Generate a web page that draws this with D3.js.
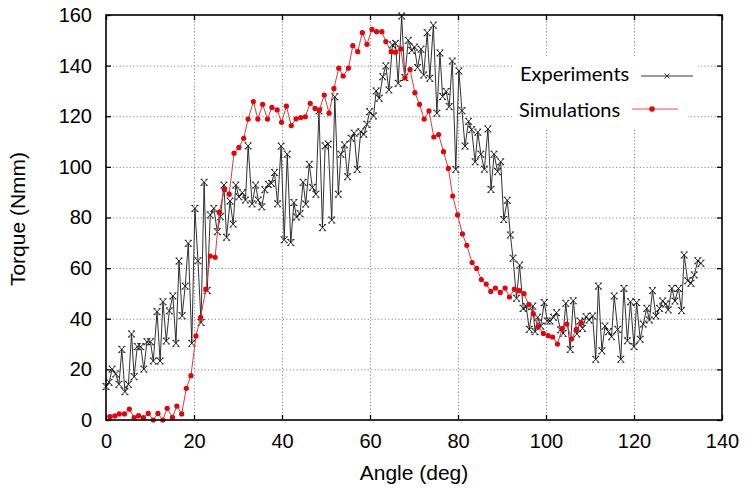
<!DOCTYPE html>
<html>
<head>
<meta charset="utf-8">
<script src="https://cdn.jsdelivr.net/npm/d3@7"></script>
<style>
  body { margin: 0; background: #fff; }
  svg { display: block; }
</style>
</head>
<body>
<svg id="canvas"></svg>
<script>
// experiments (angle in deg, torque in Nmm)
let expAngle = [0,0.7,1.4,2.2,2.95,3.6,4.3,5.1,5.8,6.4,
  7.1,7.9,8.6,9.3,10.1,10.75,11.6,12.3,12.95,13.7,
  14.4,15.2,15.9,16.6,17.3,18,18.7,19.5,20.2,20.9,
  21.6,22.3,23,23.7,24.5,25.3,26,26.8,27.4,28.2,
  28.9,29.5,30.2,31,31.7,32.3,33.2,34,34.6,35.4,
  36.1,36.9,37.6,38.3,39,39.8,40.5,41.2,42,42.7,
  43.3,44.1,44.8,45.4,46.2,46.9,47.7,48.4,49.2,49.8,
  50.5,51.3,52,52.8,53.4,54.2,54.9,55.7,56.4,57.1,
  57.9,58.6,59.3,59.9,60.8,61.4,62.1,62.9,63.6,64.3,
  65.1,65.8,66.4,67.2,67.9,68.7,69.5,70.1,70.8,71.6,
  72.2,73,73.6,74.4,75.2,75.9,76.5,77.3,78,78.7,
  79.5,80.2,80.9,81.6,82.4,83.1,83.9,84.5,85.2,86,
  86.8,87.5,88.2,89,89.7,90.4,91.2,91.9,92.5,93.3,
  94,94.8,95.5,96.2,97,97.5,98.1,98.8,99.6,100.3,
  100.9,101.7,102.4,103.3,103.9,104.5,105.5,106.2,107,107.7,
  108.3,109.1,109.8,110.6,111.3,111.9,112.7,113.4,114.2,114.9,
  115.5,116.3,117,117.7,118.5,119.2,120,120.6,121.4,122.1,
  122.9,123.5,124.2,125,125.8,126.5,127.2,127.8,128.6,129.3,
  130.1,130.8,131.4,132.2,132.95,133.7,134.5,135.2];
let expTorque = [13.2,14.9,20.1,18.2,14.1,27.9,11.2,14.1,34,17.1,
  29,29,20.1,30.9,30.9,23.3,42.8,23.3,46.7,31.2,
  43.1,49,30.3,62.8,41.2,52.9,69.8,30.3,83.6,62.9,
  38.5,93.9,51.2,81,83.6,74.4,80.3,92.8,72.2,86.5,
  77.4,92.8,88.2,89.8,86.9,108.3,85.4,92.8,86.9,84.2,
  91,93.1,93.5,97.8,85.4,108.2,71.2,105,70.1,85.9,
  80.2,81.5,93.9,85.3,101,91.9,89.2,122.1,76,108.3,
  109,79,127.7,89.2,105,108.7,96.1,111.3,113.3,99,
  113.9,112.9,116.8,121.8,120.1,130,127.1,135.6,139.9,130.4,
  148.2,148.8,133,159.6,135.3,150,146,147.3,139.2,146.5,
  136.3,153,135,156,121.2,145,127.8,129.8,123.8,141.8,
  99,137.9,122.2,108.2,118,114.7,102,113.7,105,99.1,
  115,91.1,105,98.1,102,79.2,86.8,73.1,63.9,48.1,
  61.2,44.1,44.8,35.8,45,34.9,40.6,37.1,46.4,39.1,
  39.1,40.6,42.4,35.6,34.2,46.1,27.9,47.1,34,39.1,
  36.2,40.8,39.5,41.1,24,52.9,27.3,37.1,34.9,32.9,
  49,35.8,24,52,31.3,46.7,29,46.4,31.9,37.9,
  44.1,39.5,51.1,41.1,44.1,47,45.8,43.5,52,47,
  52,43.2,65.2,55,54,57.3,62.9,61.9];

// simulations
let simAngle = [0.9,2,3,4.2,5.3,6.4,7.4,8.5,9.6,10.75,
  11.8,12.9,13.9,15.1,16.1,17.2,18.25,19.3,20.45,21.5,
  22.7,23.7,24.8,25.75,26.9,28,29.1,30.2,31.3,32.3,
  33.5,34.5,35.6,36.7,37.7,38.9,39.9,41,42.1,43.2,
  44.25,45.3,46.4,47.5,48.5,49.6,50.7,51.8,52.9,53.9,
  55.1,56.1,57.2,58.25,59.3,60.45,61.5,62.7,63.6,64.8,
  65.8,67,67.95,69.1,70.2,71.25,72.3,73.4,74.5,75.6,
  76.7,77.8,78.8,79.9,81,82,83.2,84.25,85.3,86.4,
  87.45,88.5,89.6,90.7,91.7,92.8,93.9,95,96.1,97.1,
  98.25,99.4,100.5,101.5,102.6,103.7,104.7,105.8,106.9,108];
let simTorque = [1.3,1.6,2.4,2.4,4.3,0.9,1.7,0.9,2.6,0,
  2.6,0,4.6,1,5.5,2.4,12.5,17.5,33.2,40.6,
  51.6,64.8,64.3,82.1,91.1,89.2,105.4,107.7,111.3,118.9,
  125.8,118.9,124.7,118.9,123.5,122.5,117.6,124,116.3,119,
  119.5,119.8,125.1,123.1,122.5,128.4,121.2,131,139,135.9,
  139,147.9,145.5,153,148.4,154.3,153.4,153.4,149.5,145.5,
  145.3,146.6,135.2,138.5,129.3,124.7,118.9,122.1,111.8,112.8,
  106,99.4,88.5,81,73.5,69,62.2,59.9,55.5,53.7,
  50.8,52.1,50.4,52.1,48.6,51.7,51.1,49.9,45.6,42,
  36.8,34.2,33.3,32.8,30,36.2,37.9,32,35.8,38.5];

let xTicks = [0, 20, 40, 60, 80, 100, 120, 140];
let yTicks = [0, 20, 40, 60, 80, 100, 120, 140, 160];

let width = 746;
let height = 491;
let plotLeft = 106, plotRight = 722, plotTop = 15, plotBottom = 420;

let canvas = d3.select("#canvas")
  .attr("width", width)
  .attr("height", height);

let xScale = d3.scaleLinear().domain([0, 140]).range([plotLeft, plotRight]);
let yScale = d3.scaleLinear().domain([0, 160]).range([plotBottom, plotTop]);

let expData = expAngle.map((a, i) => [a, expTorque[i]]);
let simData = simAngle.map((a, i) => [a, simTorque[i]]);

let crossPath = "M-3,-3L3,3M-3,3L3,-3M-3.5,-3H-1.5M1.5,-3H3.5M-3.5,3H-1.5M1.5,3H3.5";

let drawGrid = () => {
  let gx = canvas.append("g")
    .attr("transform", "translate(0," + plotBottom + ")")
    .call(d3.axisBottom(xScale).tickValues(xTicks.slice(1, -1)).tickSize(-(plotBottom - plotTop)).tickFormat(""));
  let gy = canvas.append("g")
    .attr("transform", "translate(" + plotLeft + ",0)")
    .call(d3.axisLeft(yScale).tickValues(yTicks.slice(1, -1)).tickSize(-(plotRight - plotLeft)).tickFormat(""));
  [gx, gy].forEach(g => {
    g.select(".domain").remove();
    g.selectAll("line")
      .attr("stroke", "#8a8a8a")
      .attr("stroke-width", 1)
      .attr("stroke-dasharray", "1.2,2.2");
  });
};

let drawLegendBack = () => {
  canvas.append("rect").attr("x", 512).attr("y", 56).attr("width", 186).attr("height", 37).attr("fill", "#fff");
  canvas.append("rect").attr("x", 512).attr("y", 92).attr("width", 176).attr("height", 37).attr("fill", "#fff");
};

let drawSeries = () => {
  let line = d3.line().x(d => xScale(d[0])).y(d => yScale(d[1]));

  canvas.append("path")
    .datum(expData)
    .attr("d", line)
    .attr("fill", "none")
    .attr("stroke", "#1a1a1a")
    .attr("stroke-width", 0.9);

  canvas.selectAll(".exp")
    .data(expData)
    .enter()
    .append("path")
    .attr("class", "exp")
    .attr("d", crossPath)
    .attr("transform", d => "translate(" + xScale(d[0]) + "," + yScale(d[1]) + ")")
    .attr("fill", "none")
    .attr("stroke", "#111")
    .attr("stroke-width", 0.9);

  canvas.append("path")
    .datum(simData)
    .attr("d", line)
    .attr("fill", "none")
    .attr("stroke", "#e03a3a")
    .attr("stroke-width", 1);

  canvas.selectAll(".sim")
    .data(simData)
    .enter()
    .append("circle")
    .attr("class", "sim")
    .attr("cx", d => xScale(d[0]))
    .attr("cy", d => yScale(d[1]))
    .attr("r", 2.6)
    .attr("fill", "#e8000b");
};

let drawAxes = () => {
  let font = "'Liberation Sans', Arial, sans-serif";

  let xAxis = canvas.append("g")
    .attr("transform", "translate(0," + plotBottom + ")")
    .call(d3.axisBottom(xScale).tickValues(xTicks).tickSize(-5).tickPadding(14).tickFormat(d3.format("d")));
  let yAxis = canvas.append("g")
    .attr("transform", "translate(" + plotLeft + ",0)")
    .call(d3.axisLeft(yScale).tickValues(yTicks).tickSize(-5).tickPadding(14).tickFormat(d3.format("d")));
  let xTop = canvas.append("g")
    .attr("transform", "translate(0," + plotTop + ")")
    .call(d3.axisTop(xScale).tickValues(xTicks).tickSize(-5).tickFormat(""));
  let yRight = canvas.append("g")
    .attr("transform", "translate(" + plotRight + ",0)")
    .call(d3.axisRight(yScale).tickValues(yTicks).tickSize(-5).tickFormat(""));

  [xAxis, yAxis, xTop, yRight].forEach(g => {
    g.select(".domain").remove();
    g.selectAll("line").attr("stroke", "#000").attr("stroke-width", 1.3);
    g.selectAll("text")
      .attr("fill", "#000")
      .style("font-family", font)
      .style("font-size", "20px");
  });

  canvas.append("rect")
    .attr("x", plotLeft).attr("y", plotTop)
    .attr("width", plotRight - plotLeft).attr("height", plotBottom - plotTop)
    .attr("fill", "none")
    .attr("stroke", "#000")
    .attr("stroke-width", 1.6);

  canvas.append("text")
    .attr("x", 414).attr("y", 480)
    .attr("text-anchor", "middle")
    .style("font-family", font)
    .style("font-size", "21px")
    .text("Angle (deg)");

  canvas.append("text")
    .attr("transform", "translate(25,219) rotate(-90)")
    .attr("text-anchor", "middle")
    .style("font-family", font)
    .style("font-size", "21px")
    .text("Torque (Nmm)");
};

let drawLegend = () => {
  let lf = "Lato, 'Open Sans', sans-serif";
  canvas.append("text").attr("x", 520).attr("y", 81)
    .style("font-family", lf).style("font-size", "20px").text("Experiments");
  canvas.append("line").attr("x1", 641).attr("x2", 693).attr("y1", 76).attr("y2", 76)
    .attr("stroke", "#7a7a7a").attr("stroke-width", 1.4);
  canvas.append("path").attr("d", "M-2.5,-2.5L2.5,2.5M-2.5,2.5L2.5,-2.5")
    .attr("transform", "translate(667,76)").attr("stroke", "#333").attr("stroke-width", 1);

  canvas.append("text").attr("x", 519).attr("y", 117)
    .style("font-family", lf).style("font-size", "20px").text("Simulations");
  canvas.append("line").attr("x1", 632).attr("x2", 678).attr("y1", 109).attr("y2", 109)
    .attr("stroke", "#f08a8a").attr("stroke-width", 1.4);
  canvas.append("circle").attr("cx", 652).attr("cy", 109).attr("r", 2.8).attr("fill", "#e8000b");
};

drawGrid();
drawLegendBack();
drawSeries();
drawAxes();
drawLegend();
</script>
</body>
</html>
